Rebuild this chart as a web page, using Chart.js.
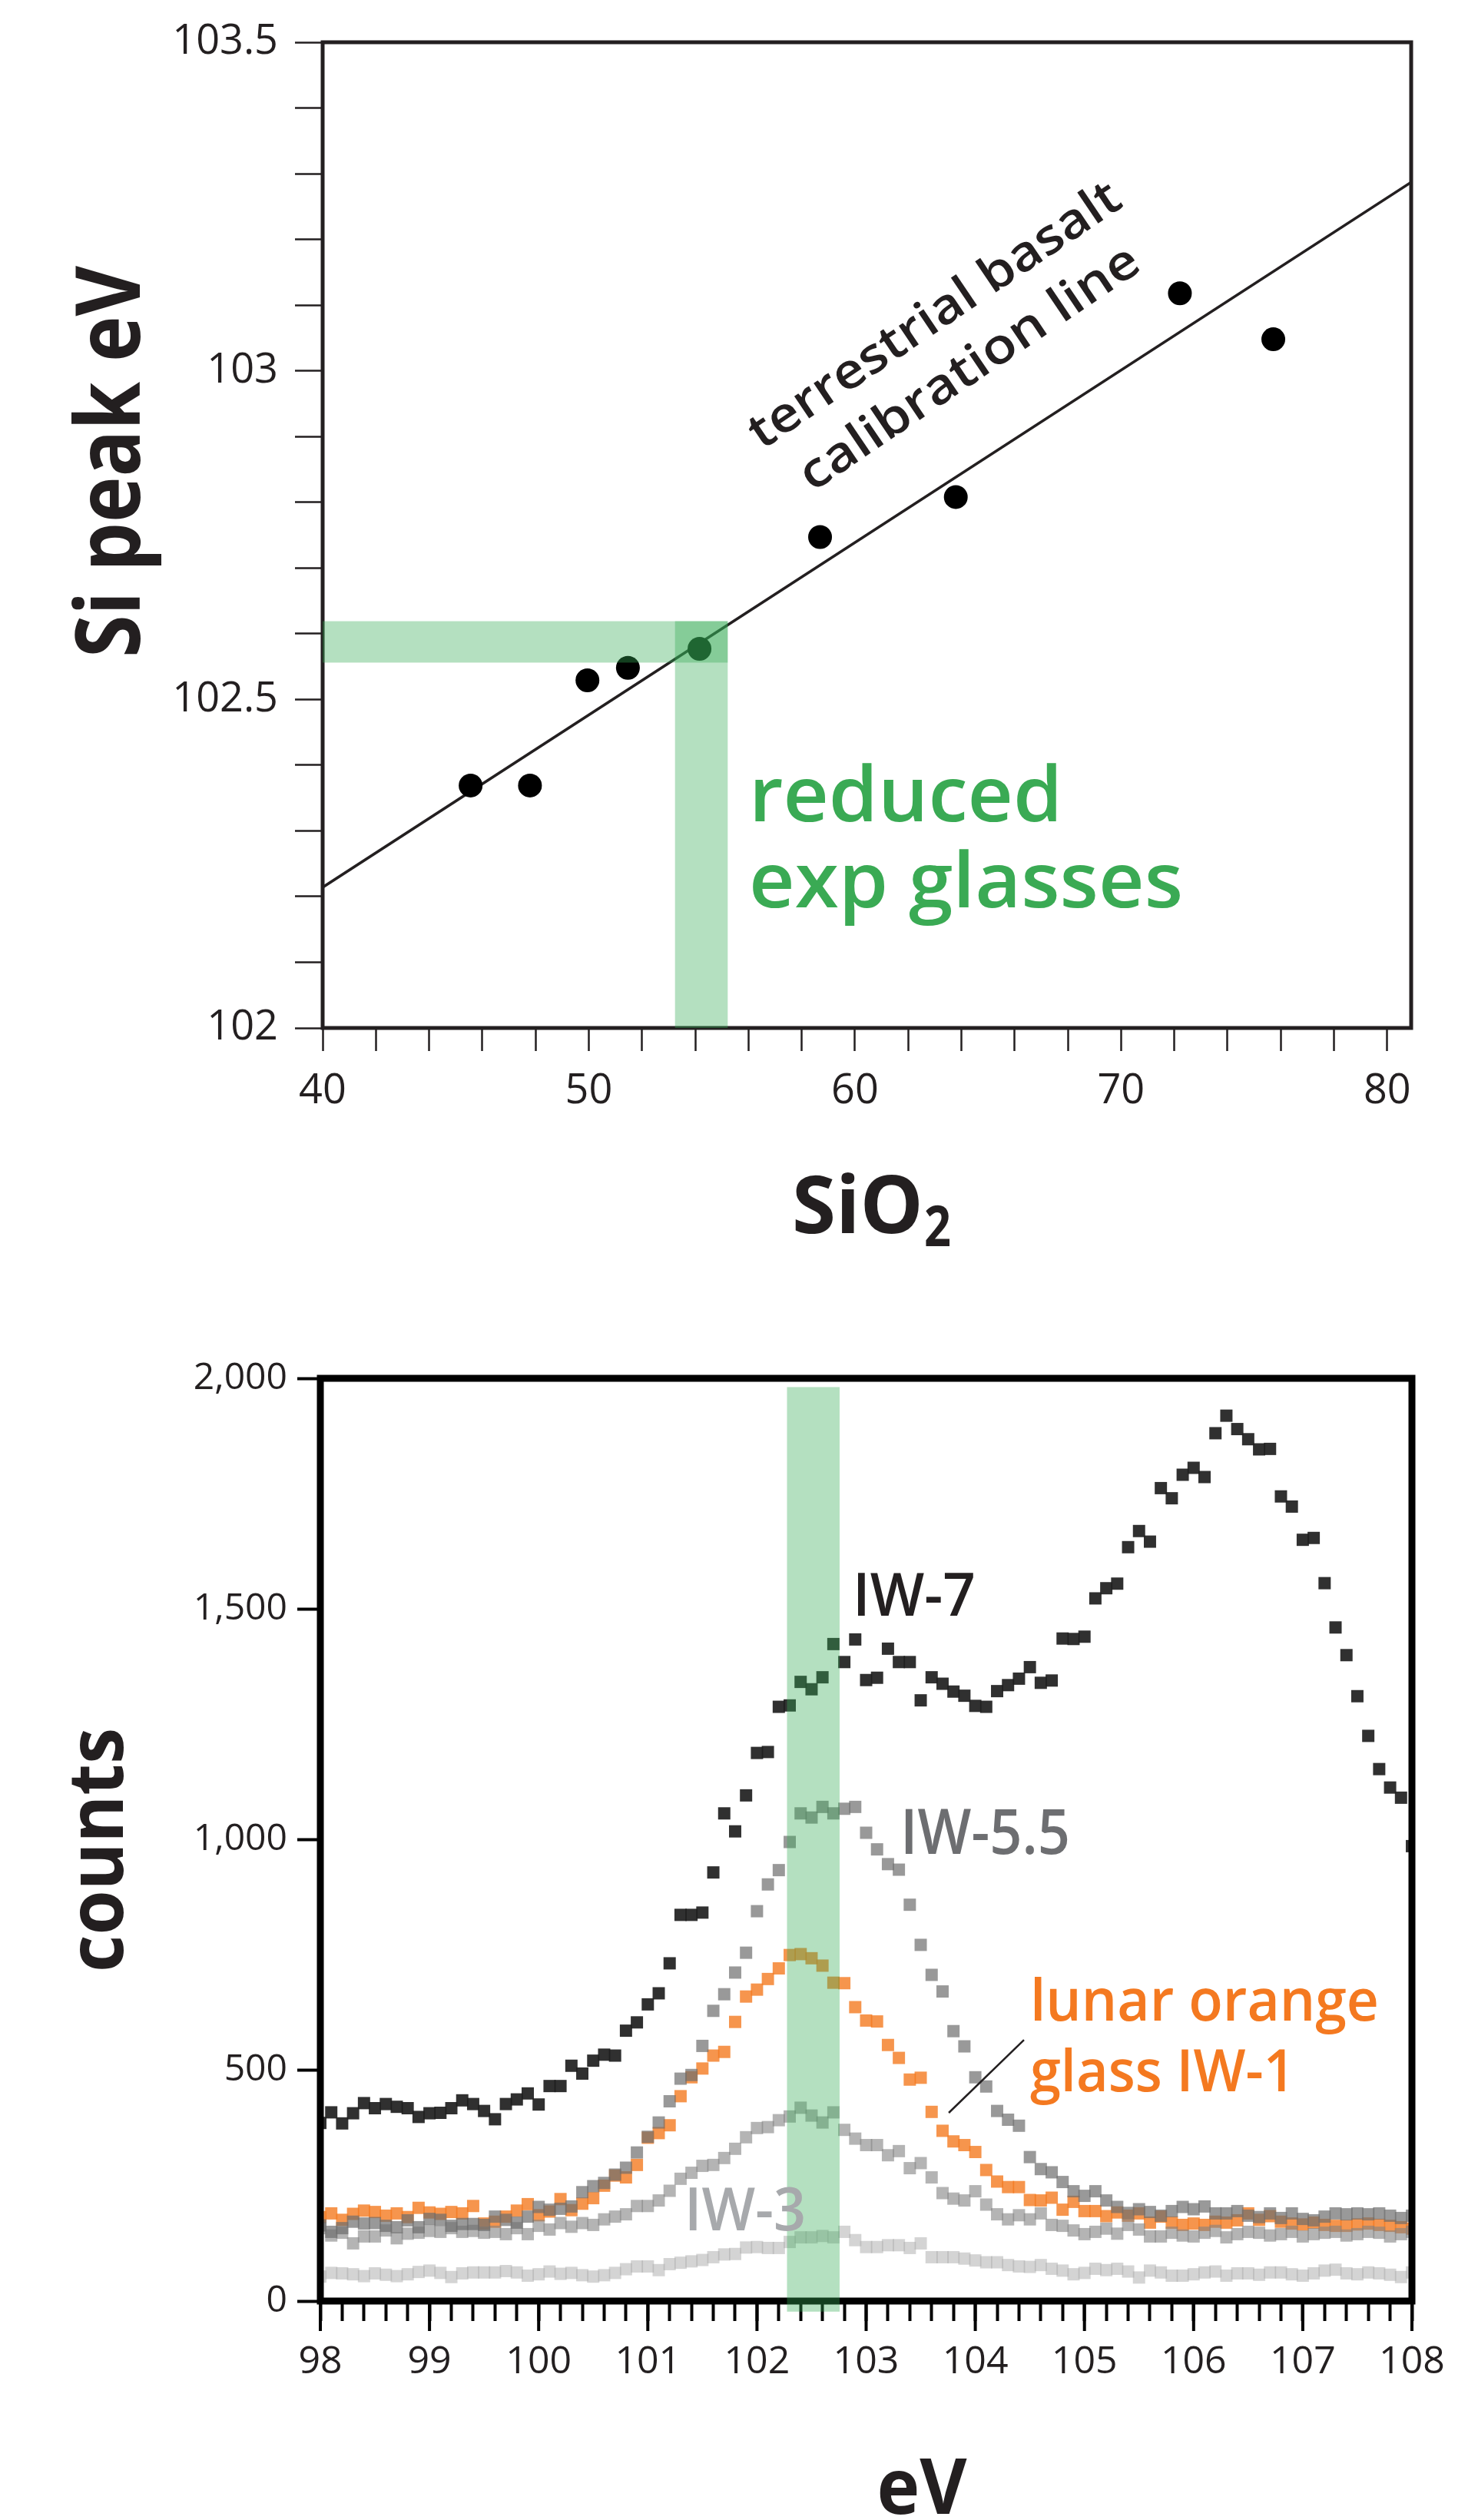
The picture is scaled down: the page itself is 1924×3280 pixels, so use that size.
<!DOCTYPE html>
<html>
<head>
<meta charset="utf-8">
<script src="https://cdn.jsdelivr.net/npm/chart.js@4.4.1/dist/chart.umd.min.js"></script>
<style>
  html, body { margin: 0; padding: 0; background: #fff; }
  body { width: 1924px; height: 3280px; position: relative; overflow: hidden; }
  #top { position: absolute; left: 0; top: 0; }
  #bottom { position: absolute; left: 0; top: 1700px; }
</style>
</head>
<body>
<canvas id="top" width="1924" height="1700"></canvas>
<canvas id="bottom" width="1924" height="1580"></canvas>
<script>
// ---- top panel: Si peak position vs SiO2 ----
const sio2   = [45.56, 47.79, 49.95, 51.47, 54.16, 58.69, 63.79, 72.21, 75.72];
const siPeak = [102.369, 102.369, 102.529, 102.548, 102.577, 102.747, 102.808, 103.118, 103.048];
const calibX = [40, 80.9];
const calibY = [102.214, 103.287];
const glassBandX = [53.24, 55.22];
const glassBandY = [102.556, 102.619];

// ---- bottom panel: spectra, 0.1 eV steps from 98 eV ----
const evStart = 98;
const evStep = 0.1;
const iw7 = [
  386, 409, 385, 407, 429, 418, 427, 421, 418, 399,
  407, 408, 418, 435, 427, 412, 394, 427, 437, 450,
  426, 466, 466, 510, 493, 521, 534, 532, 586, 604,
  643, 667, 732, 837, 837, 842, 929, 1057, 1018, 1096,
  1188, 1190, 1288, 1291, 1342, 1326, 1352, 1424, 1385, 1434,
  1346, 1351, 1414, 1385, 1385, 1302, 1352, 1338, 1321, 1312,
  1290, 1288, 1322, 1335, 1349, 1374, 1340, 1345, 1436, 1435,
  1440, 1523, 1545, 1555, 1634, 1669, 1646, 1762, 1740, 1791,
  1806, 1786, 1881, 1919, 1890, 1868, 1846, 1847, 1744, 1722,
  1650, 1654, 1556, 1460, 1400, 1311, 1225, 1153, 1113, 1091,
  986];
const iw55 = [
  164, 150, 158, 172, 168, 169, 163, 160, 175, 160,
  178, 176, 163, 167, 167, 165, 183, 176, 170, 183,
  204, 198, 200, 205, 236, 249, 256, 274, 289, 322,
  356, 387, 433, 482, 490, 553, 629, 665, 712, 755,
  845, 903, 934, 995, 1057, 1048, 1071, 1057, 1067, 1071,
  1015, 979, 947, 935, 859, 772, 707, 671, 585, 552,
  485, 465, 412, 393, 380, 312, 286, 279, 258, 238,
  228, 238, 218, 204, 191, 199, 193, 185, 195, 204,
  199, 205, 190, 190, 195, 185, 182, 190, 180, 190,
  178, 175, 183, 190, 188, 190, 188, 190, 185, 180,
  185];
const iw1 = [
  182, 190, 176, 189, 196, 193, 185, 190, 182, 202,
  192, 189, 193, 190, 206, 168, 172, 183, 196, 210,
  186, 194, 221, 197, 211, 223, 250, 272, 268, 295,
  354, 364, 381, 444, 485, 504, 532, 540, 605, 660,
  675, 698, 721, 750, 752, 743, 727, 690, 689, 637,
  608, 606, 555, 527, 480, 484, 410, 369, 346, 338,
  323, 284, 259, 247, 247, 219, 218, 224, 198, 215,
  195, 195, 184, 192, 185, 190, 170, 183, 170, 165,
  168, 165, 172, 170, 175, 190, 176, 184, 172, 168,
  166, 170, 165, 163, 163, 166, 168, 165, 163, 160,
  157];
const iw3 = [
  158, 142, 148, 125, 140, 140, 153, 136, 146, 148,
  152, 150, 158, 150, 152, 148, 150, 145, 158, 145,
  163, 155, 169, 161, 169, 165, 177, 183, 188, 206,
  206, 218, 239, 265, 278, 293, 295, 310, 330, 355,
  375, 377, 392, 400, 419, 402, 387, 409, 371, 352,
  338, 338, 316, 325, 288, 299, 268, 234, 222, 218,
  238, 209, 188, 177, 186, 177, 190, 165, 163, 153,
  145, 150, 157, 146, 165, 155, 140, 140, 148, 142,
  140, 148, 152, 138, 145, 150, 148, 142, 145, 150,
  140, 145, 148, 150, 142, 145, 150, 148, 140, 145,
  150];
const faint = [
  53, 61, 60, 58, 54, 60, 57, 54, 58, 63,
  66, 61, 52, 60, 62, 62, 62, 65, 62, 55,
  58, 64, 59, 61, 56, 53, 56, 61, 69, 75,
  75, 67, 80, 83, 86, 89, 95, 101, 102, 116,
  117, 115, 115, 128, 138, 138, 141, 138, 150, 132,
  117, 117, 121, 121, 115, 125, 95, 95, 95, 92,
  88, 84, 84, 78, 75, 74, 78, 70, 66, 58,
  61, 70, 67, 70, 64, 51, 66, 62, 55, 55,
  58, 62, 64, 55, 60, 60, 57, 62, 62, 58,
  55, 60, 66, 68, 60, 58, 62, 60, 57, 52,
  62];
const peakBandX = [102.275, 102.757];
const peakBandY = [-23, 1981];
const leaderX = [103.757, 104.446];
const leaderY = [408, 566];

const FONT = "'Open Sans', 'DejaVu Sans', sans-serif";
const INK = '#231f20';
const GREEN_BAND = 'rgba(51,170,85,0.37)';

const eV = iw7.map((_, i) => +(evStart + i * evStep).toFixed(1));

function xy(xs, ys) {
  return xs.map((x, i) => ({ x: x, y: ys[i] }));
}

// text squeezed/stretched to a given width
function fitText(ctx, text, x, y, width, font, color, align, angle) {
  ctx.save();
  ctx.font = font;
  ctx.fillStyle = color;
  ctx.textAlign = 'left';
  ctx.textBaseline = 'alphabetic';
  ctx.translate(x, y);
  if (angle) ctx.rotate(angle);
  const w = ctx.measureText(text).width;
  ctx.translate(align === 'center' ? -width / 2 : 0, 0);
  ctx.scale(width / w, 1);
  ctx.fillText(text, 0, 0);
  ctx.restore();
}

function band(ctx, xs, ys, x0, x1, y0, y1) {
  const l = xs.getPixelForValue(x0), r = xs.getPixelForValue(x1);
  const t = ys.getPixelForValue(y1), b = ys.getPixelForValue(y0);
  ctx.fillRect(l, t, r - l, b - t);
}

const topDecor = {
  id: 'topDecor',
  afterDraw(chart) {
    const { ctx, chartArea: a, scales: { x, y } } = chart;
    ctx.save();
    ctx.strokeStyle = INK;
    ctx.lineWidth = 5;
    ctx.strokeRect(a.left, a.top, a.right - a.left, a.bottom - a.top);

    ctx.fillStyle = GREEN_BAND;
    band(ctx, x, y, x.min, glassBandX[1], glassBandY[0], glassBandY[1]);
    band(ctx, x, y, glassBandX[0], glassBandX[1], y.min, glassBandY[1]);

    const rot = -34 * Math.PI / 180;
    fitText(ctx, 'terrestrial basalt', x.getPixelForValue(56.5), y.getPixelForValue(102.879),
      570, '600 64px ' + FONT, INK, 'left', rot);
    fitText(ctx, 'calibration line', x.getPixelForValue(58.4), y.getPixelForValue(102.815),
      520, '600 64px ' + FONT, INK, 'left', rot);

    fitText(ctx, 'reduced', x.getPixelForValue(56.02), y.getPixelForValue(102.314),
      408, '600 100px ' + FONT, '#3aaa54', 'left');
    fitText(ctx, 'exp glasses', x.getPixelForValue(56.02), y.getPixelForValue(102.183),
      565, '600 100px ' + FONT, '#3aaa54', 'left');

    // axis titles
    fitText(ctx, 'Si peak eV', 182, 601, 510, 'bold 116px ' + FONT, INK, 'center', -Math.PI / 2);
    fitText(ctx, 'SiO', 1031, 1605, 171, 'bold 104px ' + FONT, INK, 'left');
    fitText(ctx, '2', 1203, 1622, 35, 'bold 74px ' + FONT, INK, 'left');
    ctx.restore();
  }
};

new Chart(document.getElementById('top'), {
  type: 'scatter',
  data: {
    datasets: [
      { label: 'samples', data: xy(sio2, siPeak), backgroundColor: '#000', borderWidth: 0,
        pointRadius: 15.5, pointHoverRadius: 15.5 },
      { label: 'terrestrial basalt calibration line', data: xy(calibX, calibY), showLine: true,
        borderColor: INK, borderWidth: 3.5, pointRadius: 0, fill: false }
    ]
  },
  options: {
    responsive: false,
    animation: false,
    events: [],
    layout: { padding: { top: 55, right: 87, bottom: 0, left: 0 } },
    plugins: { legend: { display: false }, tooltip: { enabled: false } },
    scales: {
      x: {
        type: 'linear', min: 40, max: 80.9,
        border: { display: false },
        grid: { drawOnChartArea: false, tickLength: 30, tickWidth: 2.5, tickColor: INK },
        ticks: {
          stepSize: 2, includeBounds: false, autoSkip: false, maxRotation: 0, padding: 20,
          color: INK, font: { family: FONT, size: 54 },
          callback: v => (Math.round(v) % 10 === 0 ? String(Math.round(v)) : '')
        },
        afterFit: s => { s.height = 362; }
      },
      y: {
        type: 'linear', min: 102, max: 103.5,
        border: { display: false },
        grid: { drawOnChartArea: false, tickLength: 36, tickWidth: 2.5, tickColor: INK },
        ticks: {
          stepSize: 0.1, includeBounds: false, autoSkip: false, padding: 22,
          color: INK, font: { family: FONT, size: 54 },
          callback: v => {
            const r = Math.round(v * 10) / 10;
            return Math.abs(r * 2 - Math.round(r * 2)) < 1e-9 ? String(r) : '';
          }
        },
        afterFit: s => { s.width = 420; }
      }
    }
  },
  plugins: [topDecor]
});

const bottomDecor = {
  id: 'bottomDecor',
  afterDraw(chart) {
    const { ctx, chartArea: a, scales: { x, y } } = chart;
    ctx.save();
    ctx.strokeStyle = '#000';
    ctx.lineWidth = 9;
    ctx.strokeRect(a.left, a.top, a.right - a.left, a.bottom - a.top);

    // longer ticks at whole eV
    ctx.lineWidth = 4;
    x.ticks.forEach(t => {
      if (Math.abs(t.value - Math.round(t.value)) < 1e-6) {
        const px = x.getPixelForValue(t.value);
        ctx.beginPath();
        ctx.moveTo(px, a.bottom);
        ctx.lineTo(px, a.bottom + 39);
        ctx.stroke();
      }
    });

    ctx.fillStyle = GREEN_BAND;
    band(ctx, x, y, peakBandX[0], peakBandX[1], peakBandY[0], peakBandY[1]);

    fitText(ctx, 'IW-7', x.getPixelForValue(102.877), y.getPixelForValue(1485), 160, '600 77px ' + FONT, INK, 'left');
    fitText(ctx, 'IW-5.5', x.getPixelForValue(103.313), y.getPixelForValue(969), 221, '600 81px ' + FONT, '#6d6e71', 'left');
    fitText(ctx, 'lunar orange', x.getPixelForValue(104.502), y.getPixelForValue(608), 454, '600 76px ' + FONT, '#f47920', 'left');
    fitText(ctx, 'glass IW-1', x.getPixelForValue(104.502), y.getPixelForValue(455), 345, '600 76px ' + FONT, '#f47920', 'left');
    fitText(ctx, 'IW-3', x.getPixelForValue(101.336), y.getPixelForValue(153), 158, '600 77px ' + FONT, '#a7a9ac', 'left');

    fitText(ctx, 'counts', 160, 708, 318, 'bold 100px ' + FONT, INK, 'center', -Math.PI / 2);
    fitText(ctx, 'eV', 1200, 1572, 117, 'bold 100px ' + FONT, INK, 'center');
    ctx.restore();
  }
};

function series(label, values, color) {
  return {
    label: label,
    data: xy(eV, values),
    pointStyle: 'rect',
    pointRadius: 11.3,
    pointHoverRadius: 11.3,
    borderWidth: 0,
    backgroundColor: color
  };
}

new Chart(document.getElementById('bottom'), {
  type: 'scatter',
  data: {
    datasets: [
      { label: 'leader', data: xy(leaderX, leaderY), showLine: true, borderColor: INK,
        borderWidth: 2.5, pointRadius: 0 },
      series('IW-7', iw7, 'rgba(30,30,30,0.92)'),
      series('IW-5.5', iw55, 'rgba(110,110,110,0.7)'),
      series('IW-3', iw3, 'rgba(130,130,130,0.6)'),
      series('', faint, 'rgba(170,170,170,0.5)'),
      series('lunar orange glass IW-1', iw1, 'rgba(244,122,32,0.8)')
    ]
  },
  options: {
    responsive: false,
    animation: false,
    events: [],
    layout: { padding: { top: 94, right: 86, bottom: 0, left: 0 } },
    plugins: { legend: { display: false }, tooltip: { enabled: false } },
    scales: {
      x: {
        type: 'linear', min: 98, max: 108,
        border: { display: false },
        grid: { drawOnChartArea: false, tickLength: 26, tickWidth: 4, tickColor: '#000' },
        ticks: {
          stepSize: 0.2, includeBounds: false, autoSkip: false, maxRotation: 0, padding: 24,
          color: INK, font: { family: FONT, size: 50 },
          callback: v => (Math.abs(v - Math.round(v)) < 1e-6 ? String(Math.round(v)) : '')
        },
        afterFit: s => { s.height = 285; }
      },
      y: {
        type: 'linear', min: 0, max: 2000,
        border: { display: false },
        grid: { drawOnChartArea: false, tickLength: 30, tickWidth: 4, tickColor: '#000' },
        ticks: {
          stepSize: 500, padding: 13, color: INK, font: { family: FONT, size: 48 },
          callback: v => v.toLocaleString('en-US')
        },
        afterFit: s => { s.width = 417; }
      }
    }
  },
  plugins: [bottomDecor]
});
</script>
</body>
</html>
